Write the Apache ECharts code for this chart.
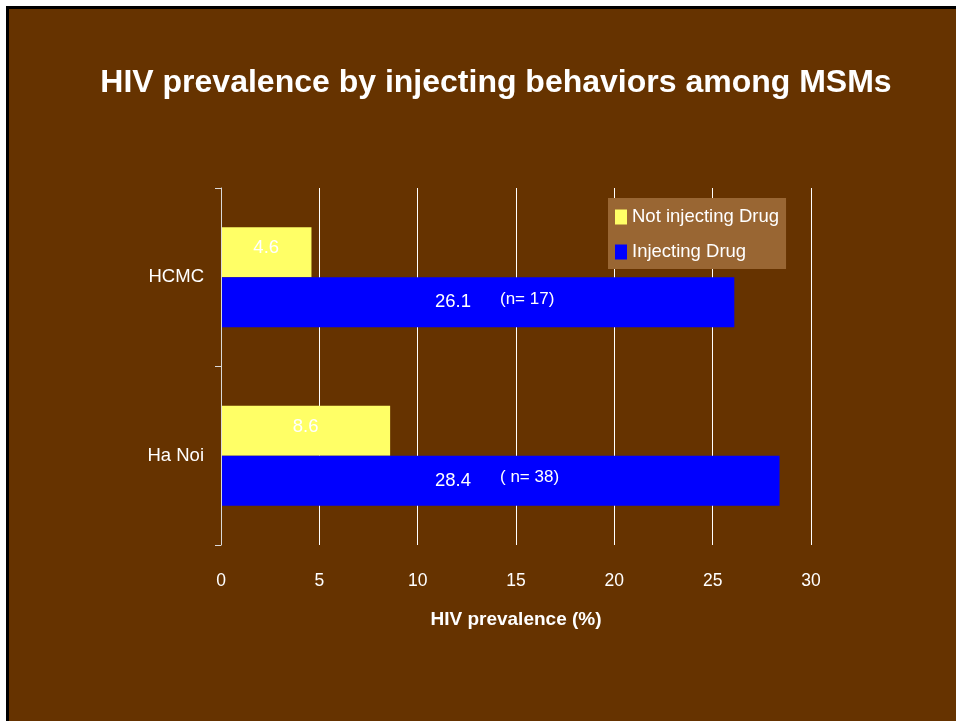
<!DOCTYPE html>
<html lang="en">
<head>
    <meta charset="UTF-8">
    <title>HIV prevalence</title>
    <script src="https://cdn.jsdelivr.net/npm/echarts@6/dist/echarts.min.js"></script>
    <style>
        html, body { margin: 0; padding: 0; background: #fff; }
        #chart { width: 956px; height: 721px; }
    </style>
</head>
<body>
<div id="chart"></div>
<script>
    var cities = ['HCMC', 'Ha Noi'];
    var notInjecting = [4.6, 8.6];
    var injecting = [26.1, 28.4];
    var sampleSizes = ['(n= 17)', '( n= 38)'];
    var xTicks = [0, 5, 10, 15, 20, 25, 30];

    var myChart = echarts.init(document.getElementById('chart'));
    var font = '"Liberation Sans", Arial, sans-serif';

    var option = {
        backgroundColor: '#ffffff',
        textStyle: {fontFamily: font},
        graphic: [{
            type: 'rect',
            z: -1,
            silent: true,
            shape: {x: 7.5, y: 7.5, width: 960, height: 720},
            style: {fill: '#663300', stroke: '#000000', lineWidth: 3}
        }],
        title: {
            text: 'HIV prevalence by injecting behaviors among MSMs',
            left: 491,
            top: 62,
            textAlign: 'center',
            textStyle: {color: '#ffffff', fontSize: 32, fontWeight: 'bold', fontFamily: font}
        },
        legend: {
            orient: 'vertical',
            left: 608,
            top: 198,
            padding: [7, 7, 5, 7],
            itemGap: 11,
            itemWidth: 12,
            itemHeight: 15,
            backgroundColor: '#996633',
            icon: 'rect',
            textStyle: {color: '#ffffff', fontSize: 18.5, lineHeight: 24, fontFamily: font},
            data: ['Not injecting Drug', 'Injecting Drug']
        },
        grid: {left: 221, right: 145, top: 188, bottom: 176},
        xAxis: {
            type: 'value',
            min: 0,
            max: 30,
            interval: 5,
            name: 'HIV prevalence (%)',
            nameLocation: 'middle',
            nameGap: 65,
            nameTextStyle: {color: '#ffffff', fontSize: 19, fontWeight: 'bold', fontFamily: font},
            axisLine: {show: false},
            axisTick: {show: false},
            axisLabel: {
                color: '#ffffff', fontSize: 17.5, margin: 27, fontFamily: font,
                formatter: function (v) { return xTicks.indexOf(v) >= 0 ? String(v) : ''; }
            },
            splitLine: {show: true, lineStyle: {color: '#ffffff', width: 1}}
        },
        yAxis: {
            type: 'category',
            inverse: true,
            data: cities,
            z: 5,
            axisLine: {show: true, lineStyle: {color: '#d9d9d9', width: 1}},
            axisTick: {show: true, length: 6, lineStyle: {color: '#d9d9d9'}},
            axisLabel: {color: '#ffffff', fontSize: 18.5, margin: 17, fontFamily: font}
        },
        series: [
            {
                name: 'Not injecting Drug',
                type: 'bar',
                data: notInjecting,
                barGap: '0%',
                barCategoryGap: '44%',
                itemStyle: {color: '#FFFF66'},
                label: {
                    show: true,
                    position: 'inside',
                    offset: [0, -4],
                    color: '#ffffff',
                    fontSize: 18.5,
                    fontFamily: font
                }
            },
            {
                name: 'Injecting Drug',
                type: 'bar',
                data: injecting,
                barGap: '0%',
                barCategoryGap: '44%',
                itemStyle: {color: '#0000FF'},
                label: {
                    show: true,
                    position: [214, '50%'],
                    verticalAlign: 'middle',
                    align: 'left',
                    formatter: function (p) {
                        return '{v|' + p.value + '}{n|' + sampleSizes[p.dataIndex] + '}';
                    },
                    rich: {
                        v: {color: '#ffffff', fontSize: 18.5, fontFamily: font},
                        n: {color: '#ffffff', fontSize: 17, fontFamily: font, padding: [0, 0, 6, 29]}
                    }
                }
            }
        ]
    };
    myChart.setOption(option);
</script>
</body>
</html>
